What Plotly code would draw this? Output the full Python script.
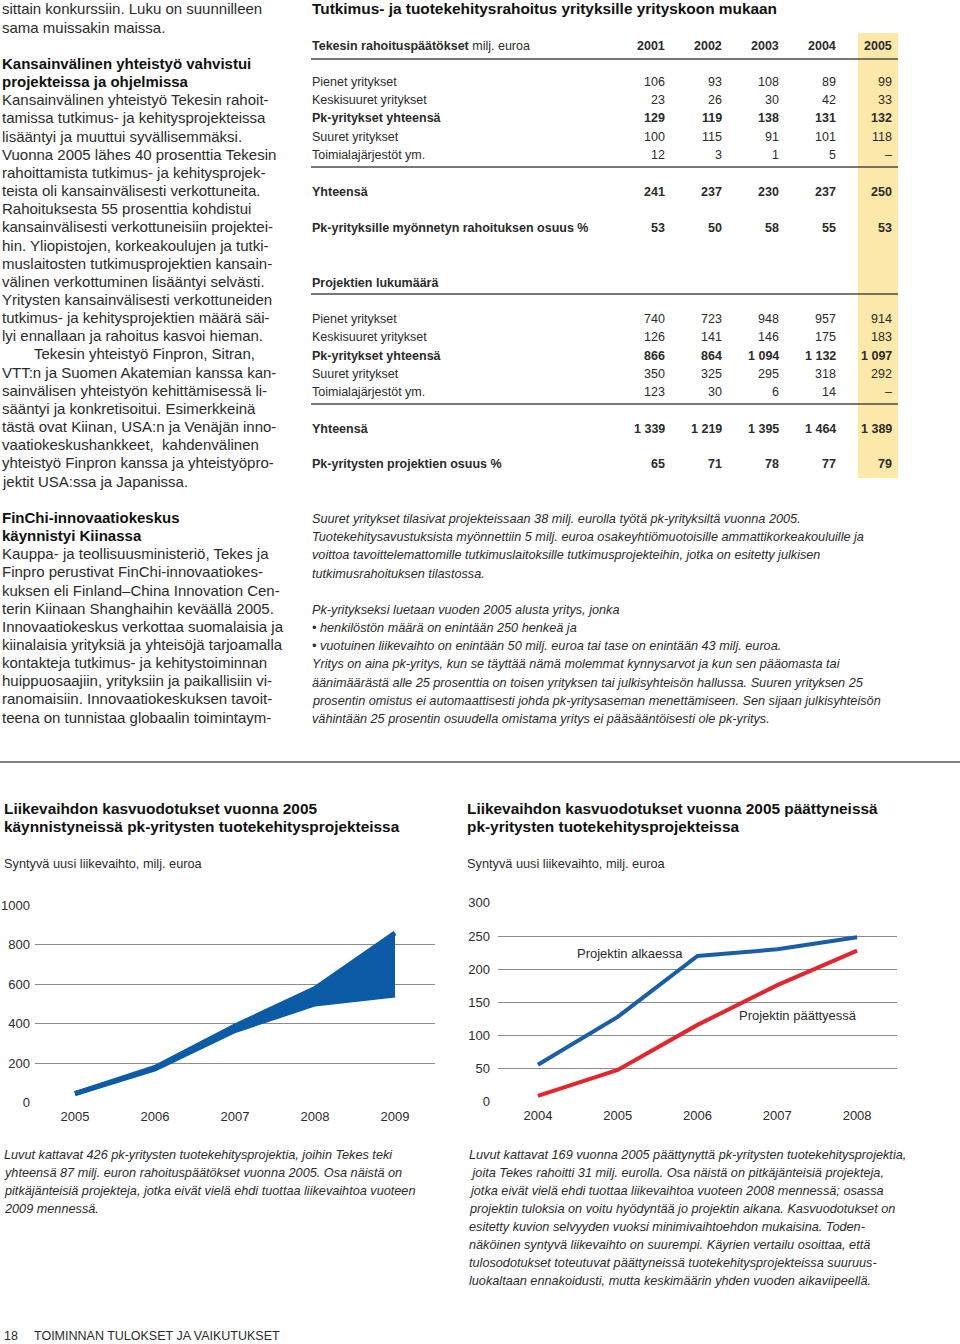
import plotly.graph_objects as go

W, H = 960, 1344
FONT = "Liberation Sans, Arial, sans-serif"
BLUE = "#0b5ba7"
RED = "#e3262d"
TXT = "#2b2b2b"

# ---------------- data ----------------
# Chart 1: expected turnover from projects started in 2005 (band low/high)
years_started = [2005, 2006, 2007, 2008, 2009]
turnover_low = [45, 170, 365, 500, 545]
turnover_high = [45, 178, 388, 578, 860]

# Chart 2: projects ended in 2005
years_ended = [2004, 2005, 2006, 2007, 2008]
at_start = [56, 128, 220, 230, 248]
at_end = [9, 48, 116, 176, 228]

# Table
table_years = ["2001", "2002", "2003", "2004", "2005"]
row_labels = ["Pienet yritykset", "Keskisuuret yritykset", "Pk-yritykset yhteensä",
              "Suuret yritykset", "Toimialajärjestöt ym."]
fund_small = [106, 93, 108, 89, 99]
fund_medium = [23, 26, 30, 42, 33]
fund_sme = [129, 119, 138, 131, 132]
fund_large = [100, 115, 91, 101, 118]
fund_assoc = [12, 3, 1, 5, None]
fund_total = [241, 237, 230, 237, 250]
fund_sme_share = [53, 50, 58, 55, 53]
proj_small = [740, 723, 948, 957, 914]
proj_medium = [126, 141, 146, 175, 183]
proj_sme = [866, 864, 1094, 1132, 1097]
proj_large = [350, 325, 295, 318, 292]
proj_assoc = [123, 30, 6, 14, None]
proj_total = [1339, 1219, 1395, 1464, 1389]
proj_sme_share = [65, 71, 78, 77, 79]

# ---------------- helpers ----------------
# vertical calibration: rendered page shows y_out ~ 7 + 0.989 * y
Y_OFF, Y_SCALE = 7.0, 0.989

def px(x):
    return x / W

def py(y):
    return 1 - ((y - Y_OFF) / Y_SCALE) / H

ann = []
shapes = []

def text(x, y, s, size=15, anchor="left", color=TXT):
    ann.append(dict(xref="paper", yref="paper", x=px(x), y=py(y), text=s,
                    showarrow=False, xanchor=anchor, yanchor="middle",
                    font=dict(size=size, color=color, family=FONT), borderpad=0))

def hline(x0, x1, y, color="#4a4a4a", width=1.5):
    shapes.append(dict(type="line", xref="paper", yref="paper",
                       x0=px(x0), x1=px(x1), y0=py(y), y1=py(y),
                       line=dict(color=color, width=width)))

def fmt(v):
    if v is None:
        return "–"
    return f"{v:,}".replace(",", " ")

# ---------------- left column text ----------------
left_lines = [
    ("sittain konkurssiin. Luku on suunnilleen", False),
    ("sama muissakin maissa.", False),
    ("", False),
    ("Kansainvälinen yhteistyö vahvistui", True),
    ("projekteissa ja ohjelmissa", True),
    ("Kansainvälinen yhteistyö Tekesin rahoit-", False),
    ("tamissa tutkimus- ja kehitysprojekteissa", False),
    ("lisääntyi ja muuttui syvällisemmäksi.", False),
    ("Vuonna 2005 lähes 40 prosenttia Tekesin", False),
    ("rahoittamista tutkimus- ja kehitysprojek-", False),
    ("teista oli kansainvälisesti verkottuneita.", False),
    ("Rahoituksesta 55 prosenttia kohdistui", False),
    ("kansainvälisesti verkottuneisiin projektei-", False),
    ("hin. Yliopistojen, korkeakoulujen ja tutki-", False),
    ("muslaitosten tutkimusprojektien kansain-", False),
    ("välinen verkottuminen lisääntyi selvästi.", False),
    ("Yritysten kansainvälisesti verkottuneiden", False),
    ("tutkimus- ja kehitysprojektien määrä säi-", False),
    ("lyi ennallaan ja rahoitus kasvoi hieman.", False),
    ("INDENTTekesin yhteistyö Finpron, Sitran,", False),
    ("VTT:n ja Suomen Akatemian kanssa kan-", False),
    ("sainvälisen yhteistyön kehittämisessä li-", False),
    ("sääntyi ja konkretisoitui. Esimerkkeinä", False),
    ("tästä ovat Kiinan, USA:n ja Venäjän inno-", False),
    ("vaatiokeskushankkeet,  kahdenvälinen", False),
    ("yhteistyö Finpron kanssa ja yhteistyöpro-", False),
    ("jektit USA:ssa ja Japanissa.", False),
    ("", False),
    ("FinChi-innovaatiokeskus", True),
    ("käynnistyi Kiinassa", True),
    ("Kauppa- ja teollisuusministeriö, Tekes ja", False),
    ("Finpro perustivat FinChi-innovaatiokes-", False),
    ("kuksen eli Finland–China Innovation Cen-", False),
    ("terin Kiinaan Shanghaihin keväällä 2005.", False),
    ("Innovaatiokeskus verkottaa suomalaisia ja", False),
    ("kiinalaisia yrityksiä ja yhteisöjä tarjoamalla", False),
    ("kontakteja tutkimus- ja kehitystoiminnan", False),
    ("huippuosaajiin, yrityksiin ja paikallisiin vi-", False),
    ("ranomaisiin. Innovaatiokeskuksen tavoit-", False),
    ("teena on tunnistaa globaalin toimintaym-", False),
]
for i, (s, b) in enumerate(left_lines):
    if not s:
        continue
    y = 9 + i * 18.16
    x = 1
    if s.startswith("INDENT"):
        s = s[6:]
        x = 33
    if b:
        text(x, y, "<b>" + s + "</b>", 15, color="#111")
    else:
        text(x, y, s, 15)

# ---------------- table ----------------
text(311, 9, "<b>Tutkimus- ja tuotekehitysrahoitus yrityksille yrityskoon mukaan</b>", 15.4, color="#111")
shapes.append(dict(type="rect", xref="paper", yref="paper", x0=px(858), x1=px(898),
                   y0=py(478), y1=py(33), fillcolor="#fce8a8", line=dict(width=0), layer="below"))
col_right = [666, 723, 780, 837, 893]
TS = 12.5
text(311, 46, "<b>Tekesin rahoituspäätökset</b> milj. euroa", TS)
for xr, yr in zip(col_right, table_years):
    text(xr, 46, "<b>" + yr + "</b>", TS, anchor="right")
hline(311, 898, 59)

def row(y, label, vals, bold=False):
    if bold:
        text(311, y, "<b>" + label + "</b>", TS)
    else:
        text(311, y, label, TS)
    for xr, v in zip(col_right, vals):
        s = fmt(v)
        text(xr, y, "<b>" + s + "</b>" if bold else s, TS, anchor="right")

fund_rows = [fund_small, fund_medium, fund_sme, fund_large, fund_assoc]
for k, (lab, vals) in enumerate(zip(row_labels, fund_rows)):
    row(82 + k * 18.2, lab, vals, bold=(k == 2))
hline(311, 898, 167)
row(192, "Yhteensä", fund_total, bold=True)
row(228, "Pk-yrityksille myönnetyn rahoituksen osuus %", fund_sme_share, bold=True)

text(311, 283, "<b>Projektien lukumäärä</b>", TS)
hline(311, 898, 294)
proj_rows = [proj_small, proj_medium, proj_sme, proj_large, proj_assoc]
for k, (lab, vals) in enumerate(zip(row_labels, proj_rows)):
    row(319 + k * 18.3, lab, vals, bold=(k == 2))
hline(311, 898, 404)
row(429, "Yhteensä", proj_total, bold=True)
row(464, "Pk-yritysten projektien osuus %", proj_sme_share, bold=True)

# ---------------- notes under table ----------------
note_lines = [
    "Suuret yritykset tilasivat projekteissaan 38 milj. eurolla työtä pk-yrityksiltä vuonna 2005.",
    "Tuotekehitysavustuksista myönnettiin 5 milj. euroa osakeyhtiömuotoisille ammattikorkeakouluille ja",
    "voittoa tavoittelemattomille tutkimuslaitoksille tutkimusprojekteihin, jotka on esitetty julkisen",
    "tutkimusrahoituksen tilastossa.",
    "",
    "Pk-yritykseksi luetaan vuoden 2005 alusta yritys, jonka",
    "• henkilöstön määrä on enintään 250 henkeä ja",
    "• vuotuinen liikevaihto on enintään 50 milj. euroa tai tase on enintään 43 milj. euroa.",
    "Yritys on aina pk-yritys, kun se täyttää nämä molemmat kynnysarvot ja kun sen pääomasta tai",
    "äänimäärästä alle 25 prosenttia on toisen yrityksen tai julkisyhteisön hallussa. Suuren yrityksen 25",
    "prosentin omistus ei automaattisesti johda pk-yritysaseman menettämiseen. Sen sijaan julkisyhteisön",
    "vähintään 25 prosentin osuudella omistama yritys ei pääsääntöisesti ole pk-yritys.",
]
for i, s in enumerate(note_lines):
    if s:
        text(311, 519 + i * 18.2, "<i>" + s + "</i>", 12.7)

hline(0, 960, 762, color="#555", width=1.5)

# ---------------- chart titles ----------------
TT = 15.4
text(3, 809, "<b>Liikevaihdon kasvuodotukset vuonna 2005</b>", TT, color="#111")
text(3, 827, "<b>käynnistyneissä pk-yritysten tuotekehitysprojekteissa</b>", TT, color="#111")
text(3, 864, "Syntyvä uusi liikevaihto, milj. euroa", 12.75)
text(466, 809, "<b>Liikevaihdon kasvuodotukset vuonna 2005 päättyneissä</b>", TT, color="#111")
text(466, 827, "<b>pk-yritysten tuotekehitysprojekteissa</b>", TT, color="#111")
text(466, 864, "Syntyvä uusi liikevaihto, milj. euroa", 12.75)

cap_left = [
    "Luvut kattavat 426 pk-yritysten tuotekehitysprojektia, joihin Tekes teki",
    "yhteensä 87 milj. euron rahoituspäätökset vuonna 2005. Osa näistä on",
    "pitkäjänteisiä projekteja, jotka eivät vielä ehdi tuottaa liikevaihtoa vuoteen",
    "2009 mennessä.",
]
for i, s in enumerate(cap_left):
    text(3, 1155 + i * 18.1, "<i>" + s + "</i>", 12.7)
cap_right = [
    "Luvut kattavat 169 vuonna 2005 päättynyttä pk-yritysten tuotekehitysprojektia,",
    " joita Tekes rahoitti 31 milj. eurolla. Osa näistä on pitkäjänteisiä projekteja,",
    "jotka eivät vielä ehdi tuottaa liikevaihtoa vuoteen 2008 mennessä; osassa",
    "projektin tuloksia on voitu hyödyntää jo projektin aikana. Kasvuodotukset on",
    "esitetty kuvion selvyyden vuoksi minimivaihtoehdon mukaisina. Toden-",
    "näköinen syntyvä liikevaihto on suurempi. Käyrien vertailu osoittaa, että",
    "tulosodotukset toteutuvat päättyneissä tuotekehitysprojekteissa suuruus-",
    "luokaltaan ennakoidusti, mutta keskimäärin yhden vuoden aikaviipeellä.",
]
for i, s in enumerate(cap_right):
    text(468, 1155 + i * 18.1, "<i>" + s + "</i>", 12.7)

text(3, 1336, "18", 12.5)
text(33, 1336, "TOIMINNAN TULOKSET JA VAIKUTUKSET", 12.5)

# ---------------- charts ----------------
fig = go.Figure()
fig.add_trace(go.Scatter(x=years_started, y=turnover_low, mode="lines",
                         line=dict(color=BLUE, width=5), xaxis="x", yaxis="y",
                         showlegend=False, hoverinfo="skip"))
fig.add_trace(go.Scatter(x=years_started, y=turnover_high, mode="lines",
                         line=dict(color=BLUE, width=5), fill="tonexty", fillcolor=BLUE,
                         xaxis="x", yaxis="y", showlegend=False, hoverinfo="skip"))
fig.add_trace(go.Scatter(x=years_ended, y=at_start, mode="lines",
                         line=dict(color="#1a5da8", width=4), xaxis="x2", yaxis="y2",
                         showlegend=False, hoverinfo="skip"))
fig.add_trace(go.Scatter(x=years_ended, y=at_end, mode="lines",
                         line=dict(color=RED, width=4), xaxis="x2", yaxis="y2",
                         showlegend=False, hoverinfo="skip"))

ann.append(dict(xref="x2", yref="y2", x=2005.15, y=223, text="Projektin alkaessa",
                showarrow=False, font=dict(size=13, color=TXT, family=FONT)))
ann.append(dict(xref="x2", yref="y2", x=2007.26, y=130, text="Projektin päättyessä",
                showarrow=False, font=dict(size=13, color=TXT, family=FONT)))

axfont = dict(size=13, color=TXT, family=FONT)
fig.update_layout(
    width=W, height=H, margin=dict(l=0, r=0, t=0, b=0),
    paper_bgcolor="white", plot_bgcolor="rgba(0,0,0,0)",
    font=dict(family=FONT, color=TXT),
    xaxis=dict(domain=[px(35), px(435)], range=[2004.5, 2009.5], tickvals=years_started,
               showgrid=False, zeroline=False, showline=False, tickfont=axfont,
               ticklabelstandoff=4, anchor="y", fixedrange=True),
    yaxis=dict(domain=[py(1102.7), py(905.5)], range=[0, 1000],
               tickvals=[0, 200, 400, 600, 800, 1000], showgrid=True,
               gridcolor="#8c8c8c", gridwidth=1, zeroline=False, showline=False,
               tickfont=axfont, ticklabelstandoff=4, anchor="x", fixedrange=True),
    xaxis2=dict(domain=[px(498), px(897)], range=[2003.5, 2008.5], tickvals=years_ended,
                showgrid=False, zeroline=False, showline=False, tickfont=axfont,
                ticklabelstandoff=4, anchor="y2", fixedrange=True),
    yaxis2=dict(domain=[py(1102), py(903)], range=[0, 300],
                tickvals=[0, 50, 100, 150, 200, 250, 300], showgrid=True,
                gridcolor="#8c8c8c", gridwidth=1, zeroline=False, showline=False,
                tickfont=axfont, ticklabelstandoff=7, anchor="x2", fixedrange=True),
    annotations=ann, shapes=shapes,
)

post = ("document.documentElement.style.margin='0';"
        "document.body.style.margin='0';document.body.style.overflow='hidden';"
        "var d=document.getElementById('{plot_id}');"
        "d.style.position='absolute';d.style.top='0px';d.style.left='0px';")
fig.write_html("out.html", config={"displayModeBar": False}, post_script=post)
